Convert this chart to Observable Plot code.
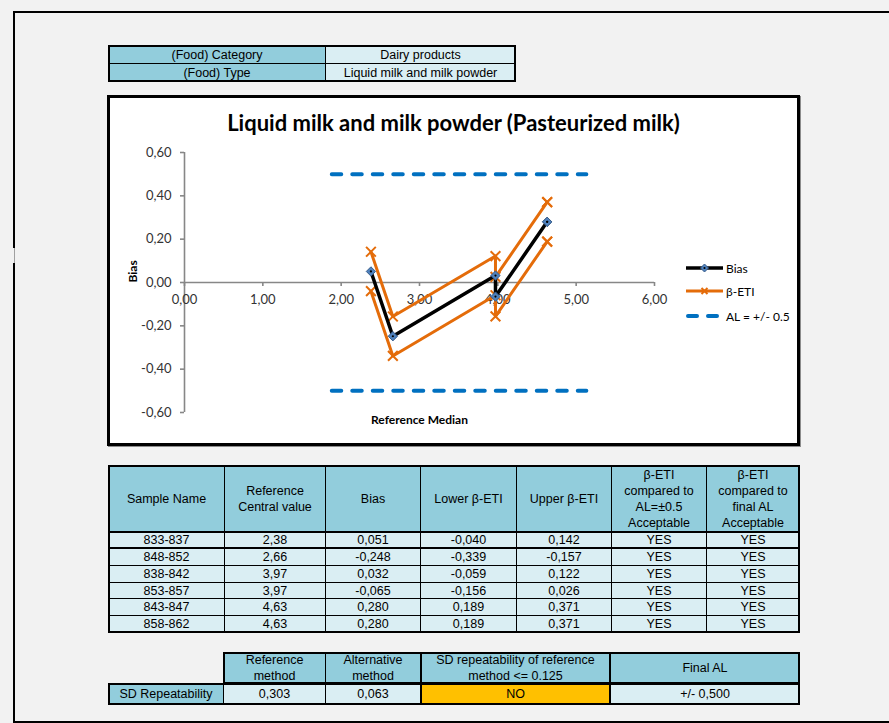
<!DOCTYPE html>
<html>
<head>
<meta charset="utf-8">
<script src="https://cdn.jsdelivr.net/npm/d3@7"></script>
<script src="https://cdn.jsdelivr.net/npm/@observablehq/plot@0.6"></script>
<style>
  html, body { margin: 0; padding: 0; background: #f2f2f2; }
  body { width: 889px; height: 723px; position: relative; overflow: hidden;
         font-family: "Liberation Sans", Arial, sans-serif; color: #000; }
  .sheet { position: absolute; left: 13px; top: 11px; width: 900px; height: 708px; border: 2px solid #000; }
  .gap { position: absolute; left: 13px; top: 248px; width: 2px; height: 15px;
         background: linear-gradient(to right, #f2f2f2 1px, #a0a0a0 1px); }
  .cell { position: absolute; box-sizing: border-box; border: 1px solid #000;
          display: flex; align-items: center; justify-content: center; text-align: center;
          font-size: 12.5px; line-height: 16px; white-space: nowrap; }
  .frame { position: absolute; box-sizing: border-box; border: 2px solid #000; pointer-events: none; }
  .chartbox { position: absolute; left: 107px; top: 95px; width: 693px; height: 351px; box-sizing: border-box;
              border: 3px solid #000; background: #fff; box-shadow: 1px 1px 0 #8c8c8c; }
  .title { position: absolute; left: 107px; width: 693px; top: 109px; text-align: center;
           font-family: Lato, "Open Sans", sans-serif; font-weight: bold; font-size: 22px; line-height: 28px; }
  .legend { position: absolute; left: 686px; top: 258px; font-family: Lato, sans-serif; font-size: 12px; }
  .legend .item { position: absolute; left: 0; height: 20px; display: flex; align-items: center; white-space: nowrap; }
  .legend svg { display: block; margin-right: 2px; }
</style>
</head>
<body>
<div class="sheet"></div>
<div class="gap"></div>
<div id="root"></div>
<script>
// Food classification
const foodLabels = ["(Food) Category", "(Food) Type"];
const foodValues = ["Dairy products", "Liquid milk and milk powder"];

// Chart title and axis titles
const chartTitle = "Liquid milk and milk powder (Pasteurized milk)";
const xTitle = "Reference Median";
const yTitle = "Bias";

// Per-sample results
const sampleNames = ["833-837", "848-852", "838-842", "853-857", "843-847", "858-862"];
const refCentral = [2.38, 2.66, 3.97, 3.97, 4.63, 4.63];
const bias = [0.051, -0.248, 0.032, -0.065, 0.280, 0.280];
const lowerEti = [-0.040, -0.339, -0.059, -0.156, 0.189, 0.189];
const upperEti = [0.142, -0.157, 0.122, 0.026, 0.371, 0.371];
const etiVsAl = ["YES", "YES", "YES", "YES", "YES", "YES"];
const etiVsFinalAl = ["YES", "YES", "YES", "YES", "YES", "YES"];

// Acceptability limits (AL = +/- 0.5) and the x span they are drawn over
const alLimits = [0.5, -0.5];
const alSpan = [1.88, 5.13];

// Axis ticks
const xTicks = [0, 1, 2, 3, 4, 5, 6];
const yTicks = [-0.6, -0.4, -0.2, 0, 0.2, 0.4, 0.6];

// Table headers
const mainHeaders = [
  ["Sample Name"],
  ["Reference", "Central value"],
  ["Bias"],
  ["Lower \u03b2-ETI"],
  ["Upper \u03b2-ETI"],
  ["\u03b2-ETI", "compared to", "AL=\u00b10.5", "Acceptable"],
  ["\u03b2-ETI", "compared to", "final AL", "Acceptable"]
];

// SD repeatability summary
const sdRowLabel = "SD Repeatability";
const sdHeaders = [["Reference", "method"], ["Alternative", "method"], ["SD repeatability of reference", "method <= 0.125"], ["Final AL"]];
const sdValues = [0.303, 0.063];
const sdCriterion = "NO";
const finalAl = 0.5;

// Decimal comma formatting
const loc = d3.formatLocale({decimal: ",", thousands: ".", grouping: [3], currency: ["", ""], minus: "-"});
const f2 = loc.format(".2f");
const f3 = loc.format(".3f");

const HEAD = "#92cddc", BODY = "#daeef3", AMBER = "#ffc000";
const root = document.getElementById("root");

function cell(x0, y0, x1, y1, lines, bg) {
  const d = document.createElement("div");
  d.className = "cell";
  d.style.left = x0 + "px"; d.style.top = y0 + "px";
  d.style.width = (x1 - x0 + 1) + "px"; d.style.height = (y1 - y0 + 1) + "px";
  d.style.background = bg;
  d.innerHTML = lines.map(s => s.replace(/&/g, "&amp;").replace(/</g, "&lt;")).join("<br>");
  root.appendChild(d);
  return d;
}
function frame(x0, y0, x1, y1) {
  const d = document.createElement("div");
  d.className = "frame";
  d.style.left = x0 + "px"; d.style.top = y0 + "px";
  d.style.width = (x1 - x0 + 1) + "px"; d.style.height = (y1 - y0 + 1) + "px";
  root.appendChild(d);
}

// Food classification table
{
  const cols = [108, 325, 515], rows = [45, 63, 81];
  foodLabels.forEach((lab, i) => {
    cell(cols[0], rows[i], cols[1], rows[i + 1], [lab], HEAD);
    cell(cols[1], rows[i], cols[2], rows[i + 1], [foodValues[i]], BODY);
  });
  frame(cols[0], rows[0], cols[2], rows[2]);
}

// Chart panel
const box = document.createElement("div");
box.className = "chartbox";
root.appendChild(box);
const ttl = document.createElement("div");
ttl.className = "title";
ttl.textContent = chartTitle;
root.appendChild(ttl);

const rows = sampleNames.map((name, i) => ({name, x: refCentral[i], bias: bias[i], lo: lowerEti[i], hi: upperEti[i]}));
const alRows = alLimits.flatMap(v => alSpan.map(x => ({x, y: v, limit: v})));
const AXIS = "#878787", ORANGE = "#e46c0a", BLUE = "#0070c0";

const chart = Plot.plot({
  width: 687, height: 346,
  marginLeft: 74, marginRight: 143, marginTop: 54, marginBottom: 32,
  x: {domain: [0, 6], axis: null},
  y: {domain: [-0.6, 0.6], axis: null},
  style: {background: "transparent", fontFamily: "Lato, sans-serif", overflow: "visible"},
  marks: [
    // y axis
    Plot.ruleX([0], {y1: -0.6, y2: 0.6, stroke: AXIS, strokeWidth: 1.6}),
    Plot.ruleY(yTicks, {y: d => d, x1: 0, x2: 0, insetLeft: -4, stroke: AXIS, strokeWidth: 1.6}),
    Plot.text(yTicks, {x: 0, y: d => d, dx: -13, textAnchor: "end", text: d => f2(d), fontSize: 13, fill: "#333"}),
    // x axis along zero
    Plot.ruleY([0], {x1: 0, x2: 6, stroke: AXIS, strokeWidth: 1.6}),
    Plot.ruleX(xTicks, {x: d => d, y1: 0, y2: 0, insetBottom: -4, stroke: AXIS, strokeWidth: 1.6}),
    Plot.text(xTicks, {x: d => d, y: 0, dy: 17, text: d => f2(d), fontSize: 13, fill: "#333"}),
    // axis titles
    Plot.text([xTitle], {frameAnchor: "bottom", dy: 11, fontWeight: "bold", fontSize: 12, fill: "#000"}),
    Plot.text([yTitle], {frameAnchor: "left", dx: -51, rotate: -90, fontWeight: "bold", fontSize: 12, fill: "#000"}),
    // acceptability limits
    Plot.line(alRows, {x: "x", y: "y", z: "limit", stroke: BLUE, strokeWidth: 4, strokeDasharray: "9.5,11", strokeLinecap: "round"}),
    // beta-ETI bounds
    Plot.line(rows, {x: "x", y: "lo", stroke: ORANGE, strokeWidth: 3}),
    Plot.line(rows, {x: "x", y: "hi", stroke: ORANGE, strokeWidth: 3}),
    Plot.dot(rows, {x: "x", y: "lo", symbol: "times", r: 4.5, stroke: ORANGE, strokeWidth: 2}),
    Plot.dot(rows, {x: "x", y: "hi", symbol: "times", r: 4.5, stroke: ORANGE, strokeWidth: 2}),
    // bias
    Plot.line(rows, {x: "x", y: "bias", stroke: "#000", strokeWidth: 3.5}),
    Plot.dot(rows, {x: "x", y: "bias", symbol: "diamond2", r: 4.2, fill: "#4f81bd", stroke: "#385d8a", strokeWidth: 1}),
    Plot.dot(rows, {x: "x", y: "bias", r: 1.1, fill: "#000"})
  ]
});
chart.style.position = "absolute";
chart.style.left = "110px";
chart.style.top = "98px";
root.appendChild(chart);

// Legend
{
  const lg = document.createElement("div");
  lg.className = "legend";
  const ns = "http://www.w3.org/2000/svg";
  const items = [
    {label: "Bias", draw: g => {
      g.innerHTML = '<line x1="0" x2="37" y1="10" y2="10" stroke="#000" stroke-width="3.5"/>' +
        '<path d="M18.5,6 L22.5,10 L18.5,14 L14.5,10 Z" fill="#4f81bd" stroke="#385d8a"/>' +
        '<circle cx="18.5" cy="10" r="1.1" fill="#000"/>';
    }},
    {label: "\u03b2-ETI", draw: g => {
      g.innerHTML = '<line x1="0" x2="37" y1="10" y2="10" stroke="' + ORANGE + '" stroke-width="3"/>' +
        '<path d="M15.5,7 L21.5,13 M21.5,7 L15.5,13" stroke="' + ORANGE + '" stroke-width="2"/>';
    }},
    {label: "AL = +/- 0.5", draw: g => {
      g.innerHTML = '<line x1="2" x2="37" y1="10" y2="10" stroke="' + BLUE + '" stroke-width="4" stroke-dasharray="9,11" stroke-linecap="round"/>';
    }}
  ];
  const tops = [0, 23, 48];
  items.forEach((it, i) => {
    const row = document.createElement("div");
    row.className = "item";
    row.style.top = tops[i] + "px";
    const svg = document.createElementNS(ns, "svg");
    svg.setAttribute("width", 38); svg.setAttribute("height", 20);
    it.draw(svg);
    row.appendChild(svg);
    const t = document.createElement("span");
    t.textContent = it.label;
    row.appendChild(t);
    lg.appendChild(row);
  });
  root.appendChild(lg);
}

// Results table
{
  const cols = [108, 224, 325, 420, 516, 611, 706, 799];
  const rws = [465, 531, 548, 565, 582, 598, 615, 632];
  mainHeaders.forEach((h, j) => cell(cols[j], rws[0], cols[j + 1], rws[1], h, HEAD));
  sampleNames.forEach((name, i) => {
    const vals = [name, f2(refCentral[i]), f3(bias[i]), f3(lowerEti[i]), f3(upperEti[i]), etiVsAl[i], etiVsFinalAl[i]];
    vals.forEach((v, j) => cell(cols[j], rws[i + 1], cols[j + 1], rws[i + 2], [v], BODY));
  });
  frame(cols[0], rws[0], cols[7], rws[7]);
  frame(cols[0], rws[1], cols[7], rws[2]);
}

// SD repeatability table
{
  const cols = [108, 223, 325, 420, 610, 799];
  const rws = [652, 683, 704];
  sdHeaders.forEach((h, j) => cell(cols[j + 1], rws[0], cols[j + 2], rws[1], h, HEAD));
  cell(cols[0], rws[1], cols[1], rws[2], [sdRowLabel], HEAD);
  sdValues.forEach((v, j) => cell(cols[j + 1], rws[1], cols[j + 2], rws[2], [f3(v)], BODY));
  cell(cols[3], rws[1], cols[4], rws[2], [sdCriterion], AMBER);
  cell(cols[4], rws[1], cols[5], rws[2], ["+/- " + f3(finalAl)], BODY);
  frame(cols[1], rws[0], cols[5], rws[1]);
  frame(cols[0], rws[1], cols[5], rws[2]);
  frame(cols[3], rws[0], cols[4], rws[2]);
}
</script>
</body>
</html>
